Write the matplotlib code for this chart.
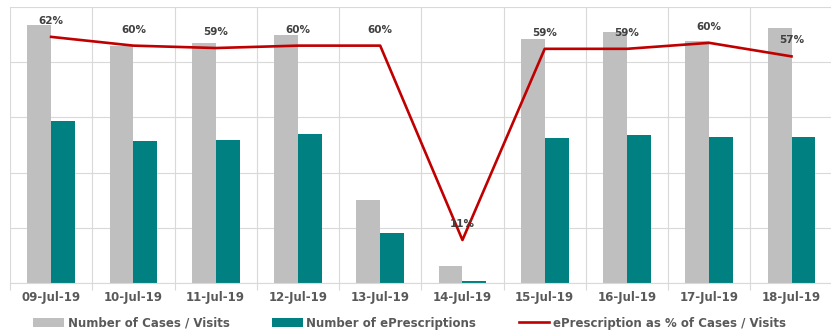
import matplotlib
matplotlib.use("Agg")
import matplotlib.pyplot as plt
import numpy as np

dates = ["09-Jul-19", "10-Jul-19", "11-Jul-19", "12-Jul-19", "13-Jul-19",
         "14-Jul-19", "15-Jul-19", "16-Jul-19", "17-Jul-19", "18-Jul-19"]
cases = [2337, 2147, 2174, 2246, 752, 154, 2210, 2274, 2192, 2310]
eprescriptions = [1467, 1286, 1295, 1350, 453, 17, 1313, 1341, 1322, 1322]
pct = [61.8, 59.6, 59.0, 59.6, 59.6, 10.8, 58.8, 58.8, 60.3, 56.9]

grid_col = "#d9d9d9"
text_col = "#595959"

fig = plt.figure(figsize=(8.31, 3.33), dpi=100)
ax = fig.add_axes([0.012, 0.150, 0.990, 0.829])

x = np.arange(len(dates))
w = 0.29
b1 = ax.bar(x - w / 2, cases, w, color="#bfbfbf", label="Number of Cases / Visits", zorder=2)
b2 = ax.bar(x + w / 2, eprescriptions, w, color="#008080", label="Number of ePrescriptions", zorder=2)

ax.set_xlim(-0.5, len(dates) - 0.5)
ax.set_ylim(0, 2500)
ax.set_yticks(np.arange(0, 2501, 500))
ax.set_yticklabels([])
ax.tick_params(axis="y", length=0)
ax.set_xticks(x)
ax.set_xticklabels(dates, fontsize=8.5, fontweight="bold", color=text_col)
ax.tick_params(axis="x", which="major", length=0, pad=6)
ax.set_xticks(np.arange(-0.5, len(dates)), minor=True)
ax.tick_params(axis="x", which="minor", length=5, color=grid_col, width=0.8)
ax.grid(axis="y", color=grid_col, lw=0.8, zorder=0)
ax.grid(axis="x", which="minor", color=grid_col, lw=0.8, zorder=0)
for s in ["left", "right", "top"]:
    ax.spines[s].set_visible(False)
ax.spines["bottom"].set_color(grid_col)
ax.spines["bottom"].set_linewidth(0.8)

ax2 = ax.twinx()
line, = ax2.plot(x, pct, color="#c00000", lw=1.9, label="ePrescription as % of Cases / Visits", zorder=3)
ax2.set_ylim(0, 69.3)
ax2.axis("off")
for xi, p in zip(x, pct):
    ax2.annotate(f"{p:.0f}%", (xi, p), xytext=(0, 11.5), textcoords="offset points",
                 ha="center", va="center", fontsize=7.5, fontweight="bold", color="#404040")

fig.legend(handles=[b1, b2, line], loc="center", bbox_to_anchor=(0.493, 0.03), ncol=3,
           frameon=False, fontsize=8.5, handlelength=2.6, handleheight=0.7,
           handletextpad=0.3, columnspacing=3.6, prop={"weight": "bold", "size": 8.5},
           labelcolor=text_col)

fig.savefig("out.png", dpi=100)
